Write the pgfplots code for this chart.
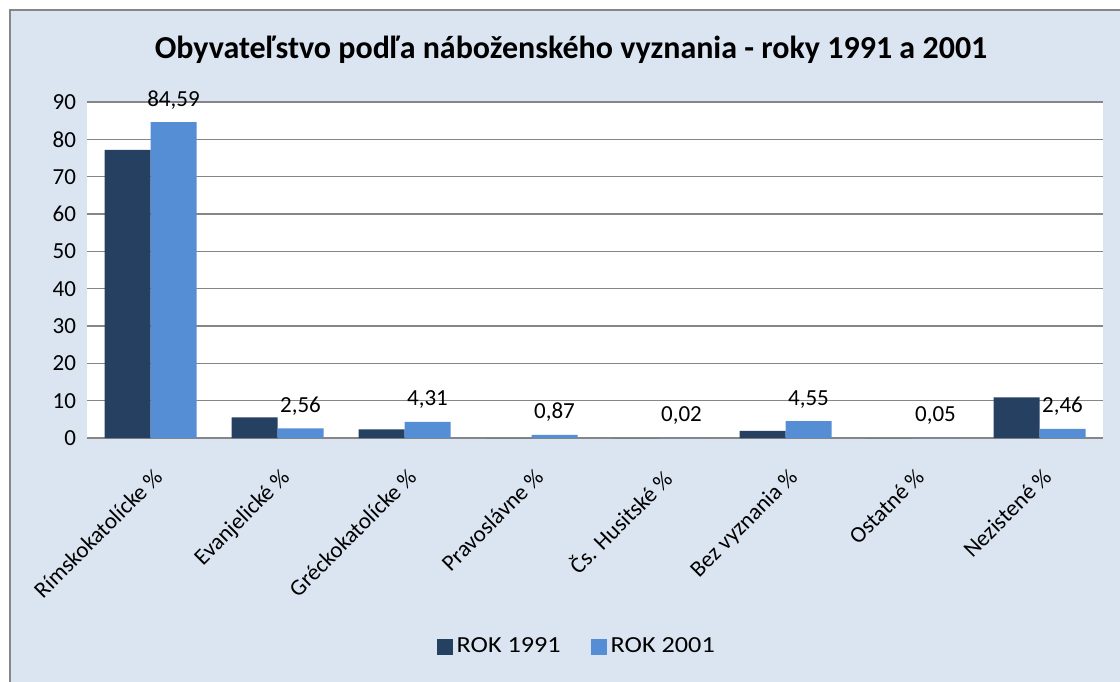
\documentclass[border=0pt]{standalone}
\usepackage{pgfplots}
\pgfplotsset{compat=1.18}
\usepackage{graphicx}
\usepackage{fontspec}
\setmainfont{Carlito}
\definecolor{bgc}{RGB}{219,229,241}
\definecolor{darkbar}{RGB}{37,64,97}
\definecolor{lightbar}{RGB}{85,142,213}
\definecolor{gridc}{RGB}{134,134,134}
\begin{document}
\begin{tikzpicture}
\useasboundingbox (0,0) rectangle (560pt,340.5pt);
\fill[white] (0,0) rectangle (560pt,340.5pt);
\filldraw[fill=bgc, draw=gridc, line width=0.75pt] (5pt,-10pt) rectangle (575pt,335.5pt);
\node[font=\bfseries\fontsize{16}{19}\selectfont] at (285.5pt,315.5pt) {Obyvateľstvo podľa náboženského vyznania - roky 1991 a 2001};
\begin{axis}[
 at={(43.5pt,121.5pt)}, anchor=south west,
 scale only axis, width=508pt, height=168pt,
 xmin=-0.5, xmax=7.5, ymin=0, ymax=90, ytick distance=10,
 xtick={0,...,7},
 xticklabels={Rímskokatolícke \%, Evanjelické \%, Gréckokatolícke \%, Pravoslávne \%, Čs. Husitské \%, Bez vyznania \%, Ostatné \%, Nezistené \%},
 ybar=0pt, bar width=23pt,
 axis background/.style={fill=white},
 axis x line*=bottom, axis y line*=left,
 x axis line style={draw=gridc, line width=1.4pt, -},
 y axis line style={draw=none},
 ymajorgrids, grid style={draw=gridc, line width=0.6pt},
 major tick length=0pt,
 tick label style={font=\fontsize{11.5}{13}\selectfont},
 /pgf/number format/assume math mode=true,
 yticklabel style={xshift=-2pt},
 xticklabel style={xshift=1pt, yshift=-9.7pt, rotate=45, anchor=north east},
 legend style={at={(0.483,-0.622)}, anchor=center, legend columns=2, draw=none, fill=none,
   font=\fontsize{11.5}{13}\selectfont,
   /tikz/every even column/.append style={column sep=13pt}},
 legend image code/.code={\fill[#1] (-1.5pt,-4pt) rectangle (6.5pt,4pt);},
 nodes near coords style={font=\fontsize{11.5}{13}\selectfont, anchor=south, yshift=3pt, text=black},
]
\addplot[fill=darkbar, draw=none] coordinates {(0,77.2) (1,5.5) (2,2.3) (3,0) (4,0) (5,1.9) (6,0) (7,10.9)};
\addlegendentry{\scalebox{1.14}[1]{ROK 1991}}
\addplot[fill=lightbar, draw=none,
  nodes near coords={\pgfmathprintnumber[fixed, fixed zerofill, precision=2, use comma]{\pgfplotspointmeta}}]
  coordinates {(0,84.59) (1,2.56) (2,4.31) (3,0.87) (4,0.02) (5,4.55) (6,0.05) (7,2.46)};
\addlegendentry{\scalebox{1.14}[1]{ROK 2001}}
\end{axis}
\end{tikzpicture}
\end{document}
